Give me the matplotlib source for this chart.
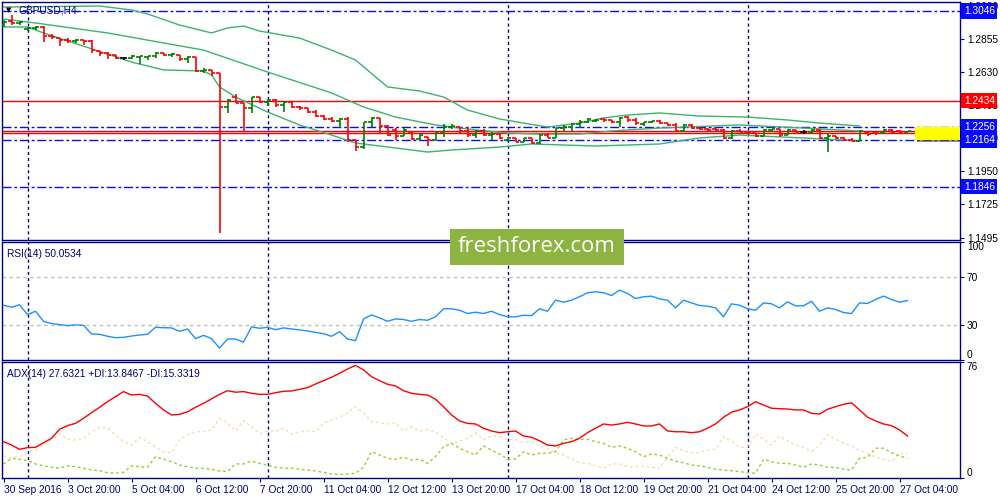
import numpy as np
import matplotlib
matplotlib.use('Agg')
import matplotlib.pyplot as plt
import matplotlib.patches as patches

# ---- data (GBPUSD H4, 30 Sep - 27 Oct 2016) ----
opens = [1.2950,1.2978,1.2964,1.2923,1.2930,1.2937,1.2875,1.2861,1.2848,1.2841,
         1.2848,1.2841,1.2773,1.2759,1.2745,1.2725,1.2725,1.2732,1.2732,1.2738,
         1.2759,1.2745,1.2745,1.2718,1.2732,1.2636,1.2643,1.2622,1.2390,1.2458,
         1.2417,1.2383,1.2458,1.2424,1.2438,1.2403,1.2424,1.2390,1.2383,1.2356,
         1.2328,1.2308,1.2294,1.2308,1.2164,1.2116,1.2287,1.2315,1.2260,1.2233,
         1.2192,1.2219,1.2171,1.2185,1.2164,1.2219,1.2253,1.2253,1.2226,1.2198,
         1.2226,1.2198,1.2205,1.2164,1.2178,1.2150,1.2178,1.2144,1.2198,1.2178,
         1.2246,1.2253,1.2274,1.2287,1.2294,1.2308,1.2301,1.2287,1.2321,1.2301,
         1.2274,1.2287,1.2294,1.2280,1.2267,1.2226,1.2267,1.2246,1.2239,1.2239,
         1.2233,1.2178,1.2226,1.2219,1.2212,1.2192,1.2233,1.2239,1.2198,1.2233,
         1.2219,1.2219,1.2233,1.2178,1.2192,1.2178,1.2164,1.2157,1.2219,1.2219,
         1.2212,1.2233,1.2226,1.2219]
highs = [1.2984,1.3019,1.2978,1.2937,1.2943,1.2943,1.2889,1.2861,1.2861,1.2855,
         1.2848,1.2848,1.2773,1.2766,1.2745,1.2732,1.2745,1.2738,1.2738,1.2766,
         1.2759,1.2759,1.2745,1.2738,1.2732,1.2656,1.2643,1.2622,1.2444,1.2479,
         1.2417,1.2458,1.2458,1.2444,1.2444,1.2424,1.2424,1.2397,1.2383,1.2369,
         1.2335,1.2321,1.2315,1.2321,1.2164,1.2287,1.2321,1.2315,1.2267,1.2246,
         1.2246,1.2219,1.2205,1.2185,1.2219,1.2274,1.2274,1.2253,1.2253,1.2233,
         1.2239,1.2219,1.2212,1.2185,1.2178,1.2178,1.2178,1.2205,1.2212,1.2246,
         1.2267,1.2280,1.2301,1.2315,1.2308,1.2315,1.2301,1.2321,1.2328,1.2315,
         1.2287,1.2294,1.2301,1.2280,1.2280,1.2274,1.2274,1.2253,1.2246,1.2253,
         1.2239,1.2233,1.2239,1.2219,1.2212,1.2239,1.2239,1.2239,1.2239,1.2233,
         1.2233,1.2239,1.2239,1.2205,1.2192,1.2185,1.2178,1.2233,1.2219,1.2219,
         1.2239,1.2239,1.2233,1.2226]
lows = [1.2937,1.2950,1.2950,1.2909,1.2916,1.2834,1.2855,1.2807,1.2827,1.2827,
        1.2814,1.2759,1.2738,1.2718,1.2718,1.2711,1.2718,1.2684,1.2711,1.2725,
        1.2738,1.2732,1.2704,1.2690,1.2629,1.2622,1.2602,1.1529,1.2349,1.2417,
        1.2226,1.2349,1.2417,1.2397,1.2390,1.2356,1.2383,1.2369,1.2349,1.2321,
        1.2301,1.2287,1.2246,1.2150,1.2089,1.2103,1.2253,1.2212,1.2192,1.2164,
        1.2192,1.2164,1.2164,1.2123,1.2164,1.2185,1.2239,1.2212,1.2185,1.2178,
        1.2192,1.2164,1.2171,1.2150,1.2150,1.2150,1.2137,1.2137,1.2178,1.2178,
        1.2226,1.2219,1.2246,1.2280,1.2287,1.2287,1.2280,1.2253,1.2287,1.2267,
        1.2260,1.2280,1.2274,1.2260,1.2219,1.2219,1.2239,1.2233,1.2226,1.2226,
        1.2171,1.2171,1.2219,1.2205,1.2185,1.2192,1.2219,1.2185,1.2198,1.2219,
        1.2205,1.2205,1.2171,1.2082,1.2171,1.2157,1.2157,1.2157,1.2192,1.2198,
        1.2205,1.2212,1.2212,1.2219]
closes = [1.2971,1.2964,1.2971,1.2930,1.2937,1.2875,1.2868,1.2848,1.2841,1.2848,
          1.2841,1.2779,1.2759,1.2745,1.2725,1.2725,1.2738,1.2738,1.2738,1.2759,
          1.2745,1.2752,1.2718,1.2732,1.2636,1.2643,1.2622,1.2390,1.2438,1.2417,
          1.2383,1.2458,1.2424,1.2438,1.2403,1.2424,1.2390,1.2383,1.2356,1.2328,
          1.2308,1.2294,1.2308,1.2164,1.2116,1.2287,1.2315,1.2260,1.2198,1.2192,
          1.2233,1.2171,1.2198,1.2164,1.2219,1.2253,1.2260,1.2226,1.2198,1.2226,
          1.2198,1.2205,1.2178,1.2178,1.2150,1.2178,1.2144,1.2198,1.2178,1.2246,
          1.2253,1.2274,1.2287,1.2308,1.2301,1.2301,1.2287,1.2315,1.2301,1.2280,
          1.2287,1.2294,1.2280,1.2267,1.2226,1.2267,1.2246,1.2239,1.2233,1.2233,
          1.2178,1.2226,1.2219,1.2212,1.2192,1.2233,1.2239,1.2198,1.2233,1.2219,
          1.2219,1.2233,1.2178,1.2192,1.2178,1.2164,1.2157,1.2226,1.2205,1.2212,
          1.2233,1.2219,1.2219,1.2226]

# bollinger-like bands, sampled at bar indices
upper_idx = [0,12,16,18,22,26,28,30,32,37,41,44,48,52,55,58,62,65,68,72,75,78,82,87,93,98,102,107]
upper_val = [1.3073,1.3080,1.3053,1.3026,1.2950,1.2896,1.2930,1.2943,1.2909,1.2861,1.2779,1.2711,
             1.2527,1.2499,1.2458,1.2369,1.2308,1.2280,1.2253,1.2280,1.2315,1.2335,1.2349,1.2328,
             1.2321,1.2301,1.2280,1.2260]
mid_idx = [0,4,13,25,33,41,45,49,54,59,63,67,72,76,82,92,100,107]
mid_val = [1.2991,1.2964,1.2896,1.2779,1.2629,1.2486,1.2390,1.2321,1.2267,1.2233,1.2212,1.2205,
           1.2205,1.2226,1.2246,1.2267,1.2246,1.2226]
lower_idx = [0,3,5,16,20,25,26,27,29,33,37,41,44,53,56,62,66,74,82,87,92,100,107]
lower_val = [1.2937,1.2937,1.2896,1.2697,1.2643,1.2636,1.2609,1.2527,1.2458,1.2356,1.2267,1.2198,
             1.2144,1.2082,1.2096,1.2116,1.2137,1.2123,1.2137,1.2178,1.2198,1.2178,1.2157]

blue_levels = [1.3046, 1.2256, 1.2164, 1.1846]
red_levels = [1.2434]
price_lines = [1.2226, 1.2212]
price_ticks = [1.3080, 1.2855, 1.2630, 1.2405, 1.2180, 1.1950, 1.1725, 1.1495]

rsi = [46.4,44.7,46.8,38.5,41.3,32.8,30.9,30.0,29.1,29.7,
       29.4,22.1,21.8,20.1,18.9,19.2,20.3,21.2,21.8,27.7,
       27.4,27.2,24.3,26.3,18.1,20.9,18.1,10.1,17.8,17.8,
       15.2,28.0,26.9,27.7,25.7,27.2,26.3,25.5,24.6,23.4,
       22.3,20.1,24.0,17.8,16.4,34.8,38.2,35.7,32.8,34.8,
       34.3,32.8,34.3,33.7,36.6,43.4,43.4,42.2,39.4,40.5,
       39.4,41.3,38.5,36.6,36.6,37.9,37.6,43.4,41.3,50.7,
       49.0,50.7,53.6,57.0,57.8,57.0,54.7,59.2,56.4,52.1,
       53.6,54.1,51.8,50.7,44.2,50.7,48.4,46.2,45.6,44.2,
       36.6,47.6,46.4,43.4,42.2,48.4,47.6,44.2,49.3,45.9,
       45.9,49.8,41.3,44.2,42.8,40.2,39.4,48.4,47.9,51.3,
       54.1,51.3,49.0,50.4]

adx = [23.8,21.6,18.8,19.9,20.1,23.1,26.0,31.9,34.3,35.8,
       39.1,42.8,46.3,50.0,53.3,56.6,54.4,54.8,53.7,48.9,
       44.6,41.3,41.7,43.4,46.3,48.9,51.8,54.8,57.2,56.2,
       56.6,55.5,54.8,54.8,55.9,56.8,57.0,58.1,59.2,61.6,
       63.8,66.0,68.6,71.4,73.8,70.8,66.4,63.8,61.4,60.3,
       57.2,55.5,54.8,54.4,51.6,46.7,41.3,37.4,35.8,35.4,
       32.6,30.8,29.7,30.3,30.8,27.5,26.7,24.4,21.6,21.0,
       22.7,23.8,26.0,29.7,32.6,35.4,34.7,35.4,36.5,35.4,
       34.1,34.1,35.4,30.8,30.3,30.3,29.7,30.3,32.6,35.4,
       39.8,43.1,44.6,46.7,50.0,47.8,45.7,45.4,45.2,44.6,
       44.6,42.4,41.9,45.0,46.7,48.3,49.3,44.6,39.8,37.4,
       35.4,34.3,31.5,27.5]
minus_di = [14.4,13.3,14.0,17.2,18.3,21.6,24.9,28.8,25.3,24.9,
            26.0,30.3,33.2,32.6,28.2,23.8,21.6,26.7,23.8,20.1,
            17.2,16.6,24.9,28.2,30.3,30.3,31.5,39.1,36.2,30.8,
            37.6,33.6,28.8,30.8,30.8,32.6,28.8,30.3,30.8,30.3,
            35.8,38.0,39.8,42.8,46.7,42.4,36.9,36.2,35.4,36.2,
            30.8,33.6,30.8,31.5,30.3,26.4,22.7,24.2,26.0,29.7,
            25.3,27.5,27.1,25.3,25.3,23.1,23.8,21.0,19.5,16.6,
            15.1,12.5,10.0,9.6,7.9,6.4,9.2,9.2,7.4,7.4,
            7.9,7.0,6.4,13.6,20.1,17.9,16.6,16.6,18.3,18.8,
            27.1,24.2,20.1,20.3,28.8,25.3,21.6,27.5,24.4,21.6,
            20.1,17.2,21.6,28.2,25.3,23.1,21.0,18.3,16.2,13.6,
            12.3,10.7,16.2,16.2]
plus_di = [9.2,12.9,12.3,11.4,9.2,7.9,7.0,6.4,7.9,7.4,
           6.4,5.2,4.8,3.5,3.1,3.7,7.9,7.4,7.0,14.0,
           12.3,10.7,8.5,7.4,6.4,6.4,5.7,4.6,4.2,9.2,
           9.2,11.1,9.6,8.5,7.0,6.4,6.4,5.7,5.2,4.6,
           3.7,2.6,2.2,2.6,3.1,7.0,17.2,15.1,12.9,12.3,
           13.6,11.8,12.3,9.6,14.0,20.5,22.7,19.5,17.2,15.1,
           21.0,18.3,15.7,12.5,12.5,17.2,15.1,16.2,16.2,17.2,
           24.9,26.0,25.3,25.3,23.8,22.7,20.1,21.0,19.5,17.2,
           14.0,15.7,15.1,12.9,11.1,10.0,8.5,7.9,7.0,5.7,
           5.2,4.8,4.2,3.5,3.1,12.3,10.7,9.6,9.6,8.5,
           7.0,9.2,8.5,7.0,7.0,5.7,5.2,12.9,13.6,19.5,
           19.5,16.6,14.4,12.9]

week_lines = [3, 33, 63, 93]
date_ticks = list(range(0, 113, 8))
date_labels = ['30 Sep 2016', '3 Oct 20:00', '5 Oct 04:00', '6 Oct 12:00', '7 Oct 20:00',
               '11 Oct 04:00', '12 Oct 12:00', '13 Oct 20:00', '17 Oct 04:00', '18 Oct 12:00',
               '19 Oct 20:00', '21 Oct 04:00', '24 Oct 12:00', '25 Oct 20:00', '27 Oct 04:00']

NAVY = '#000080'
BLUE = '#0a0aff'
plt.rcParams['font.family'] = ['Liberation Sans', 'DejaVu Sans']

fig = plt.figure(figsize=(10, 5), dpi=100)
W, H = 1000.0, 500.0


def px_axes(left, top, right, bottom):
    return fig.add_axes([left / W, 1 - bottom / H, (right - left) / W, (bottom - top) / H])


def frame(a):
    for s in a.spines.values():
        s.set_color(NAVY)
        s.set_linewidth(1.0)
    a.set_xlim(-0.19, 119.56)
    a.yaxis.tick_right()
    a.tick_params(axis='y', direction='out', length=3, color=NAVY, labelsize=7.3,
                  labelcolor='black', pad=2)
    for w in week_lines:
        a.axvline(w, color=NAVY, lw=1, ls=(0, (2.2, 2.2)), zorder=1)


ax = px_axes(2, 2, 960, 240)
ax_rsi = px_axes(2, 242, 960, 360)
ax_adx = px_axes(2, 362, 960, 478)
for a in (ax, ax_rsi, ax_adx):
    frame(a)

# ---- main price panel ----
ax.set_ylim(1.14807, 1.31075)
ax.set_yticks(price_ticks)
ax.set_yticklabels(['%.4f' % v for v in price_ticks])
ax.set_xticks([])

for lv in blue_levels:
    ax.axhline(lv, color=BLUE, lw=1, ls=(0, (6.5, 2, 2, 2)), zorder=2)
for lv in red_levels + price_lines:
    ax.axhline(lv, color='red', lw=1, zorder=2)

ax.plot(upper_idx, upper_val, color='#3cb371', lw=1, zorder=3)
ax.plot(mid_idx, mid_val, color='#3cb371', lw=1, zorder=3)
ax.plot(lower_idx, lower_val, color='#3cb371', lw=1, zorder=3)

x = np.arange(len(closes))
o = np.array(opens)
c = np.array(closes)
cols = np.where(c > o, '#007f00', np.where(c < o, '#ff0000', '#000000'))
ax.vlines(x, lows, highs, colors=cols, lw=1.2, zorder=4)
ax.hlines(o, x - 0.4, x, colors=cols, lw=1.2, zorder=4)
ax.hlines(c, x, x + 0.4, colors=cols, lw=1.2, zorder=4)

# yellow zone with shadow
ax.add_patch(patches.Rectangle((114.2, 1.2164 - 0.0016), 6, 0.0089, facecolor='#555555',
                               alpha=0.6, edgecolor='none', zorder=5))
ax.add_patch(patches.Rectangle((113.9, 1.2164), 6, 0.0089, facecolor='#ffff00',
                               edgecolor='none', zorder=6))

ax.text(0.004, 0.965, '\u25bc', transform=ax.transAxes, fontsize=5, color='black',
        family='DejaVu Sans', va='center', ha='left')
ax.text(0.017, 0.965, 'GBPUSD,H4', transform=ax.transAxes, fontsize=7.3, color=NAVY,
        va='center', ha='left')

# price labels on right axis
yt = ax.get_yaxis_transform()
box = dict(boxstyle='square,pad=0.25', ec='none')
ax.text(1.004, 1.2219, '1.2219', transform=yt, fontsize=7.3, color='white', va='center',
        ha='left', bbox=dict(box, fc='red'), clip_on=False, zorder=10)
for lv in blue_levels:
    ax.text(1.004, lv, '%.4f' % lv, transform=yt, fontsize=7.3, color='white', va='center',
            ha='left', bbox=dict(box, fc=BLUE), clip_on=False, zorder=11)
for lv in red_levels:
    ax.text(1.004, lv, '%.4f' % lv, transform=yt, fontsize=7.3, color='white', va='center',
            ha='left', bbox=dict(box, fc='red'), clip_on=False, zorder=11)

# ---- RSI panel ----
ax_rsi.set_ylim(0, 100)
ax_rsi.set_xticks([])
ax_rsi.set_yticks([0, 30, 70, 100])
ax_rsi.set_yticklabels(['0', '30', '70', '100'])
for lv in (30, 70):
    ax_rsi.axhline(lv, color='#c0c0c0', lw=1, ls=(0, (2.5, 2.5)), zorder=1)
ax_rsi.plot(x, rsi, color='#1e90ff', lw=1, zorder=3)
ax_rsi.text(0.005, 0.9, 'RSI(14) 50.0534', transform=ax_rsi.transAxes, fontsize=7.3,
            color=NAVY, va='center', ha='left')
rt = ax_rsi.yaxis.get_major_ticks()
rt[0].label2.set_va('bottom')
rt[-1].label2.set_va('top')

# ---- ADX panel ----
ax_adx.set_ylim(0, 76)
ax_adx.set_yticks([0, 76])
ax_adx.set_yticklabels(['0', '76'])
ax_adx.plot(x, minus_di, color='#f5deb3', lw=1, ls=(0, (2, 2)), zorder=2)
ax_adx.plot(x, plus_di, color='#9acd32', lw=1, ls=(0, (2, 2)), zorder=2)
ax_adx.plot(x, adx, color='red', lw=1, zorder=3)
ax_adx.text(0.005, 0.9, 'ADX(14) 27.6321 +DI:13.8467 -DI:15.3319', transform=ax_adx.transAxes,
            fontsize=7.3, color=NAVY, va='center', ha='left')
at = ax_adx.yaxis.get_major_ticks()
at[0].label2.set_va('bottom')
at[-1].label2.set_va('top')

ax_adx.set_xticks(date_ticks)
ax_adx.set_xticklabels(date_labels)
ax_adx.tick_params(axis='x', direction='out', length=3, color=NAVY, labelsize=7.3,
                   labelcolor=NAVY, pad=2)
for lab in ax_adx.get_xticklabels():
    lab.set_horizontalalignment('left')

# watermark
fig.text(0.537, 0.506, 'freshforex.com', fontsize=16, color='white', family='Open Sans',
         ha='center', va='center', zorder=20,
         bbox=dict(boxstyle='square,pad=0.35', fc='#8db440', ec='none'))

fig.savefig('out.png', dpi=100)
